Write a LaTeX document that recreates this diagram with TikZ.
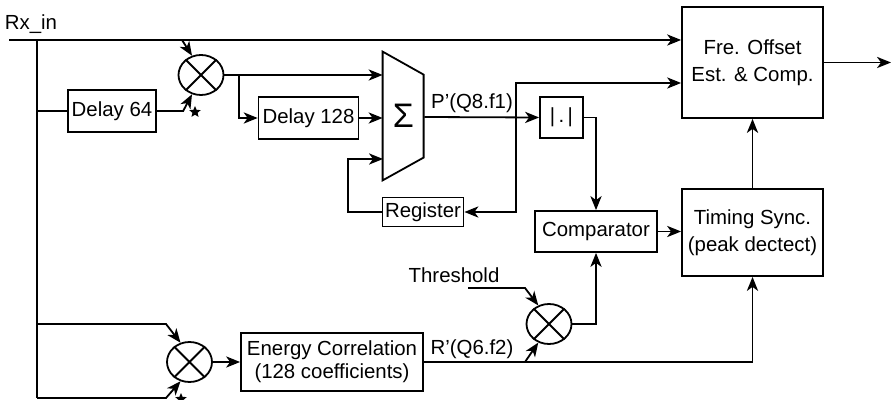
\documentclass[tikz,border=0pt]{standalone}
\usepackage{fontspec}
\setmainfont{Liberation Sans}
\usetikzlibrary{arrows.meta, positioning, shapes.geometric}
\tikzset{
  box/.style = {rectangle, draw=black, line width=0.9pt, align=center, font=\fontsize{10.2}{13.5}\selectfont, inner sep=2pt},
  mixer/.style = {ellipse, draw=black, line width=0.9pt, minimum width=22.5pt, minimum height=20pt, inner sep=0pt},
  lbl/.style = {font=\fontsize{10.2}{12}\selectfont, inner sep=0pt},
  conj/.style = {star, star points=5, star point ratio=2.2, fill=black, minimum size=6pt, inner sep=0pt},
  wire/.style = {line width=0.9pt},
  arr/.style = {-{Stealth[length=7pt, width=5.6pt, inset=2pt]}, line width=0.9pt}
}

\begin{document}
\begin{tikzpicture}[x=0.5pt, y=-0.5pt]
\useasboundingbox (0,0) rectangle (892,400);

% Input
\node[lbl] (rxin) at (31,24) {Rx\_in};
\coordinate (rxtop) at (9,40);
\coordinate (rxv) at (37,40);
\coordinate (rxbot) at (37,398);
\coordinate (m2in) at (37,324);

% Upper path (delay correlation)
\node[box, minimum width=44pt, minimum height=21pt] (d64) at (112,111) {Delay 64};
\node[mixer] (mix1) at (201,75) {};
\node[conj] (cj1) at (195,112) {};
\node[box, minimum width=48.5pt, minimum height=21pt] (d128) at (308.5,118) {Delay 128};
\node[minimum width=20.5pt, minimum height=64pt, inner sep=0pt, font=\fontsize{17}{17}\selectfont] (sum) at (403.5,116) {Σ};
\node[box, minimum width=40.5pt, minimum height=14.5pt, inner sep=1pt] (reg) at (423,212) {Register};
\node[box, minimum width=21.5pt, minimum height=20.5pt] (abs) at (561.5,117.5) {|\,.\,|};
\node[lbl] (plbl) at (472,103) {P’(Q8.f1)};
\coordinate (br1) at (239,75);
\coordinate (br2) at (516,117);
\coordinate (sumfb) at (383,159);

% Right column
\node[box, minimum width=70.5pt, minimum height=55.5pt] (fre) at (752.5,62.5) {Fre. Offset\\Est. \& Comp.};
\node[box, minimum width=61pt, minimum height=20.5pt] (comp) at (596,231.5) {Comparator};
\node[box, minimum width=70.5pt, minimum height=43.5pt] (timing) at (752.5,232.5) {Timing Sync.\\(peak dectect)};
\coordinate (out) at (891,62.5);

% Lower path (energy)
\node[lbl] (thr) at (454,275) {Threshold};
\node[mixer] (mix3) at (549,324) {};
\node[box, minimum width=91pt, minimum height=29pt, font=\fontsize{10.2}{11.5}\selectfont] (ener) at (332,362) {Energy Correlation\\(128 coefficients)};
\node[mixer] (mix2) at (189.5,362) {};
\node[conj] (cj2) at (181,399) {};
\node[lbl] (rlbl) at (472,349) {R’(Q6.f2)};
\coordinate (thrin) at (468,288);
\coordinate (thrbend) at (525,288);
\coordinate (rbr) at (525,362);

% Mixer crosses and adder outline
\draw[wire] (mix1.45) -- (mix1.225) (mix1.135) -- (mix1.-45);
\draw[wire] (mix2.45) -- (mix2.225) (mix2.135) -- (mix2.-45);
\draw[wire] (mix3.45) -- (mix3.225) (mix3.135) -- (mix3.-45);
\draw[wire] (sum.north west) -- ++(41,23) -- ++(0,83) -- (sum.south west) -- cycle;

% ----- ARROWS -----
% Rx_in feed
\draw[arr] (rxtop) -- (rxtop -| fre.west);
\draw[wire] (rxv) -- (rxbot);
\draw[wire] (rxv |- d64.west) -- (d64.west);
% Into first mixer
\draw[arr] ([xshift=-9.5pt]mix1.north |- rxtop) -- (mix1.115);
\draw[arr] (d64.east) -- ++(26,0) -- (mix1.-115);
% Into adder
\draw[arr] (mix1.east) -- (sum.west |- mix1.east);
\draw[arr] (br1) |- (d128.west);
\draw[arr] (d128.east) -- (sum.west |- d128.east);
\draw[arr] (reg.west) -- ++(-34,0) |- (sumfb);
% Adder output
\draw[arr] (sum.east |- br2) -- (abs.west);
\draw[arr] (br2) |- ([yshift=-10.25pt]fre.west);
\draw[arr] (br2) |- (reg.east);
% Right column
\draw[arr] (abs.east) -| (comp.north);
\draw[arr] (comp.east) -- (comp.east -| timing.west);
\draw[arr] (timing.north) -- (fre.south);
\draw[arr] (fre.east) -- (out);
% Lower path
\draw[arr] (m2in) -- ++(129,0) -- (mix2.115);
\draw[arr] (rxbot) -- ++(129,0) -- (mix2.-115);
\draw[arr] (mix2.east) -- (ener.west);
\draw[arr] (ener.east) -| (timing.south);
\draw[arr] (thrin) -- (thrbend) -- (mix3.120);
\draw[arr] (rbr) -- (mix3.-120);
\draw[arr] (mix3.east) -| (comp.south);

\end{tikzpicture}
\end{document}
